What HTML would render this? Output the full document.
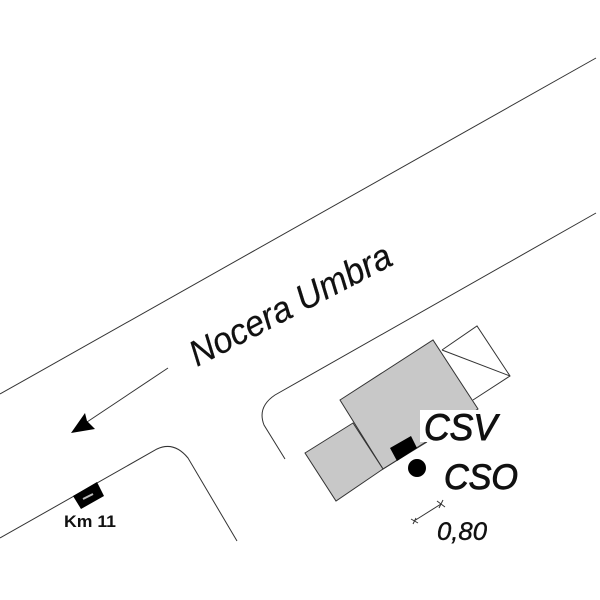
<!DOCTYPE html>
<html><head><meta charset="utf-8"><style>
html,body{margin:0;padding:0;background:#fff}
svg{display:block}
text{font-family:"Liberation Sans",sans-serif;fill:#111}
</style></head><body>
<svg width="600" height="600" viewBox="0 0 600 600" xmlns="http://www.w3.org/2000/svg">
<rect width="600" height="600" fill="#fff"/>
<g fill="none" stroke="#333" stroke-width="1">
<path d="M0 394L596 58"/>
<path d="M285 459L264 425Q257 407 275 395L596 213"/>
<path d="M0 538L157 449Q174 441 188 458L237 541"/>
<path d="M442 350L477 326L510 376L473 400"/>
<path d="M442 350L510 376"/>
</g>
<polygon points="340,400 433,340 478,409 383,469" fill="#c8c8c8" stroke="#333"/>
<polygon points="305,453 353,423 383,469 336,501" fill="#c8c8c8" stroke="#333"/>
<path d="M383 469L427 442" stroke="#333" fill="none"/>
<rect x="420" y="410" width="80" height="32" fill="#fff"/>
<polygon points="390,448 411,436 417,448 397,461" fill="#000"/>
<circle cx="417" cy="468" r="9" fill="#000"/>
<path d="M168 368L87 422" stroke="#333" fill="none"/>
<polygon points="71,433 85,413 87,421 95,429" fill="#000"/>
<polygon points="73,496 97,482 104,496 81,509" fill="#000"/>
<path d="M83 499L93 494" stroke="#bbb" stroke-width="2"/>
<g stroke="#333" fill="none">
<path d="M414 521L441 504"/>
<path d="M411 519L418 523M413 524L416 518M437 501L445 507M439 508L443 500"/>
</g>
<text x="64" y="527" font-size="17" font-weight="bold" textLength="52" lengthAdjust="spacingAndGlyphs">Km 11</text>
<text x="424" y="440" font-size="37" font-style="italic" stroke="#111" stroke-width="0.9" textLength="73" lengthAdjust="spacingAndGlyphs">CSV</text>
<text x="444" y="489" font-size="35" font-style="italic" stroke="#111" stroke-width="0.9" textLength="74" lengthAdjust="spacingAndGlyphs">CSO</text>
<text x="437" y="540" font-size="25" font-style="italic" stroke="#111" stroke-width="0.4" textLength="50" lengthAdjust="spacingAndGlyphs">0,80</text>
<text transform="translate(197 367) rotate(-27.5)" font-size="36" font-style="italic" stroke="#111" stroke-width="0.2" textLength="223" lengthAdjust="spacingAndGlyphs">Nocera Umbra</text>
</svg>
</body></html>
